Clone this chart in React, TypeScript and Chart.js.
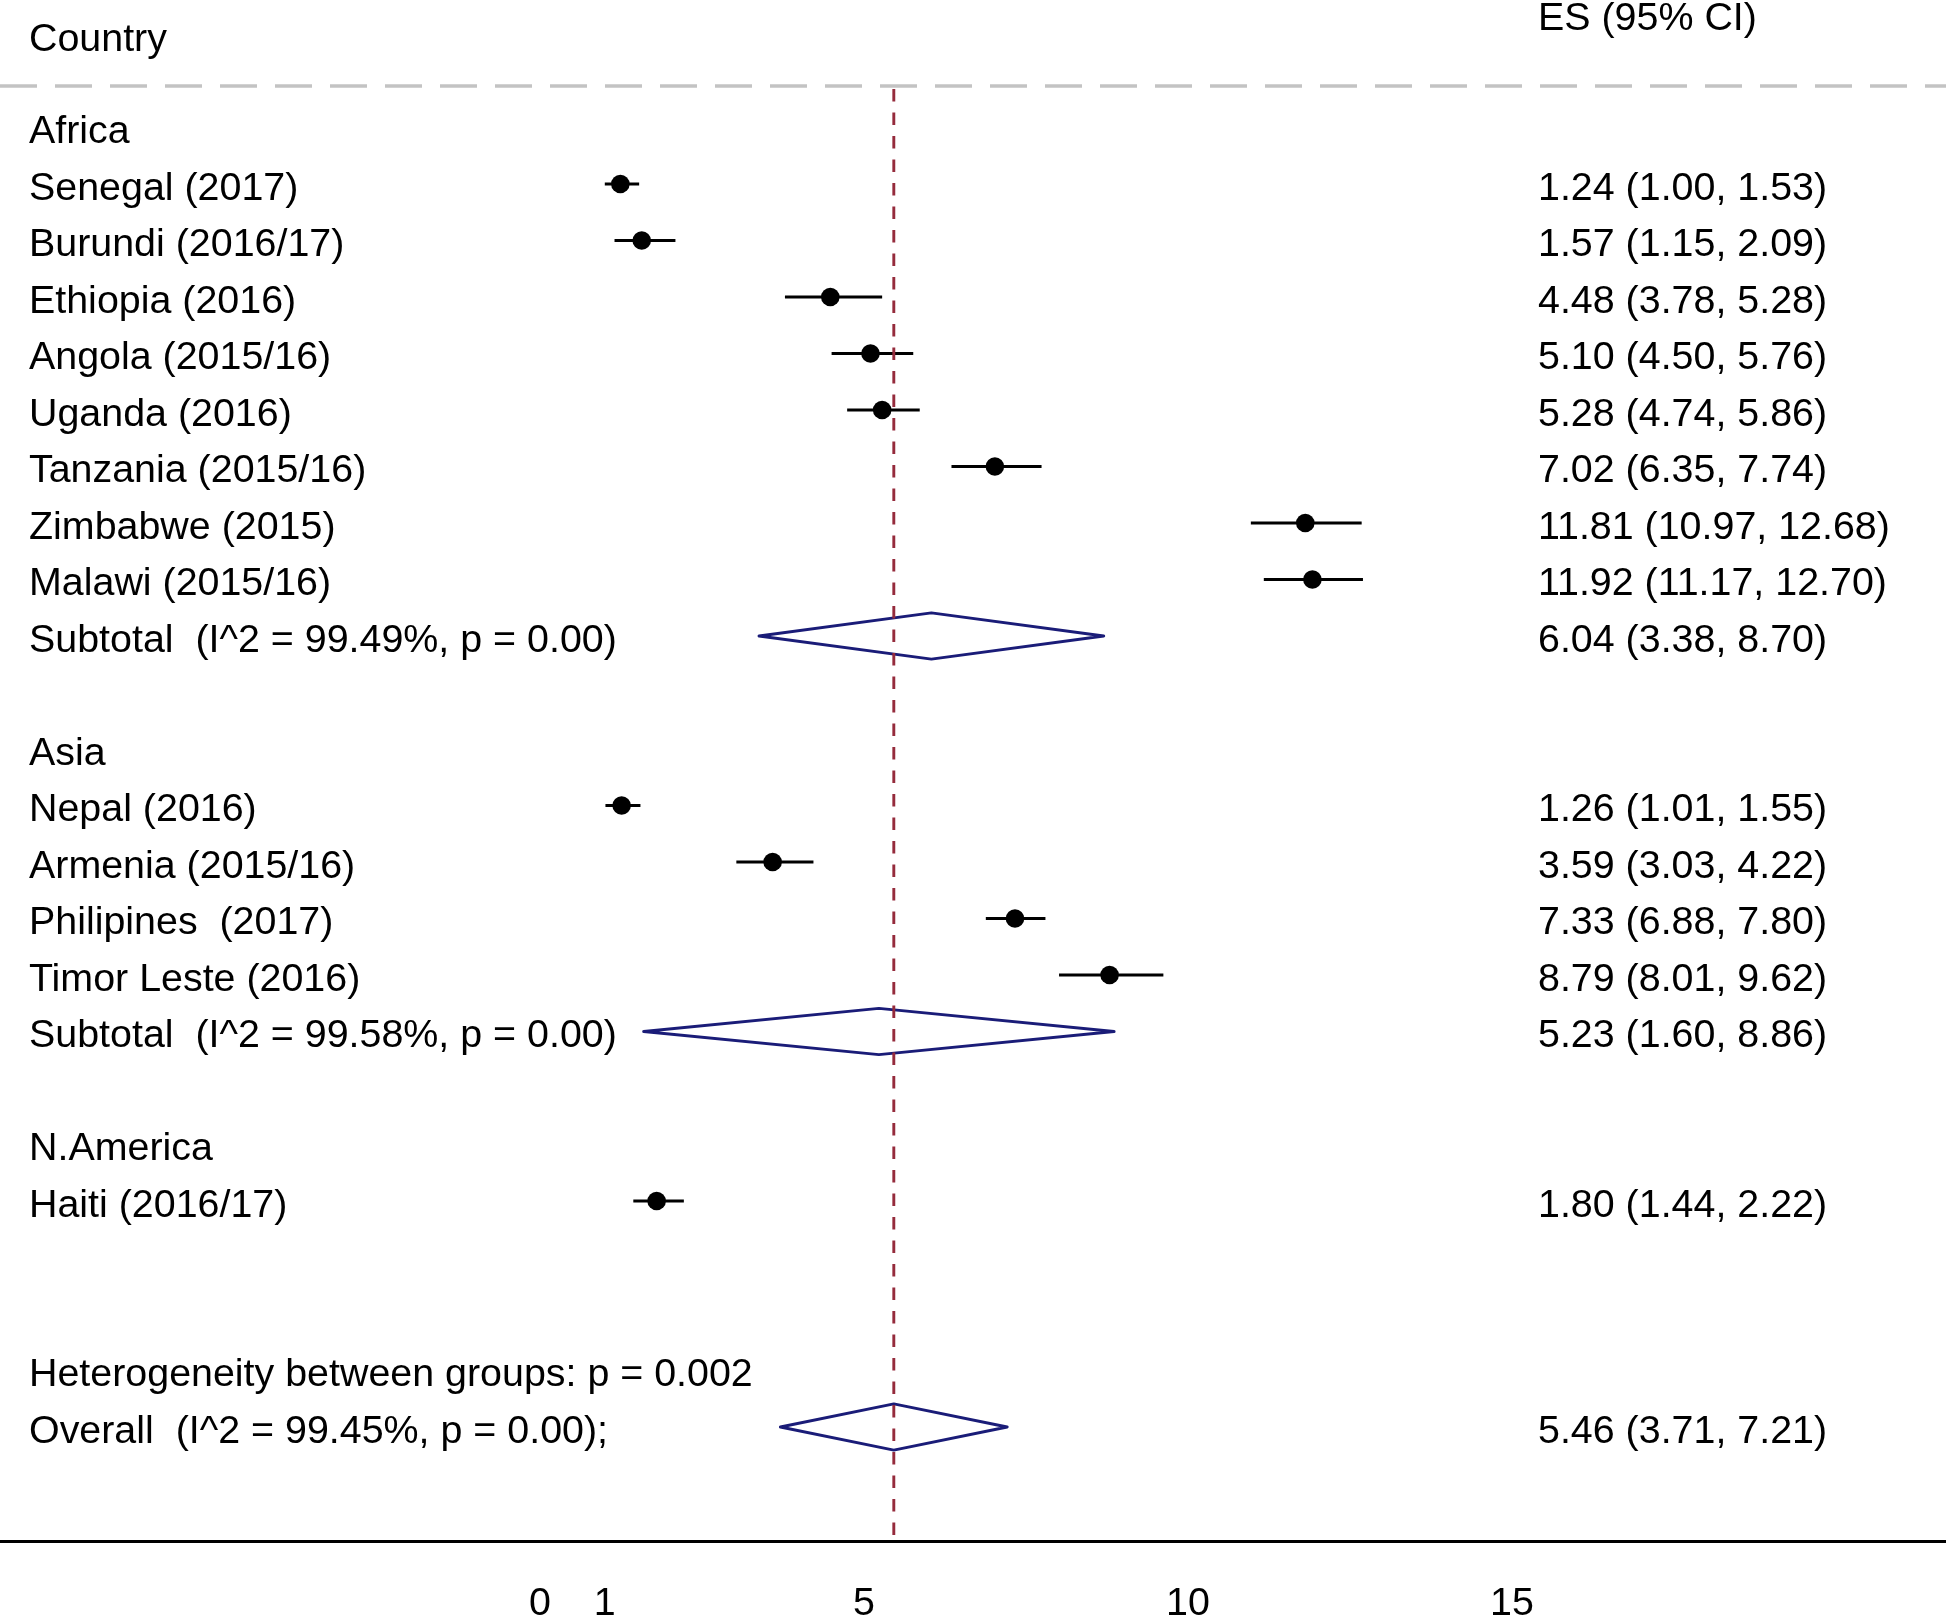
import { useEffect, useRef } from 'react';
import { Chart, registerables } from 'chart.js';

Chart.register(...registerables);

// ---------------- data ----------------
const groupNames = ['Africa', 'Asia', 'N.America'];
const studyNames = [
  'Senegal (2017)',
  'Burundi (2016/17)',
  'Ethiopia (2016)',
  'Angola (2015/16)',
  'Uganda (2016)',
  'Tanzania (2015/16)',
  'Zimbabwe (2015)',
  'Malawi (2015/16)',
  'Nepal (2016)',
  'Armenia (2015/16)',
  'Philipines  (2017)',
  'Timor Leste (2016)',
  'Haiti (2016/17)',
];
const studyGroup = [0, 0, 0, 0, 0, 0, 0, 0, 1, 1, 1, 1, 2];
const studyES = [1.24, 1.57, 4.48, 5.1, 5.28, 7.02, 11.81, 11.92, 1.26, 3.59, 7.33, 8.79, 1.8];
const studyLow = [1.0, 1.15, 3.78, 4.5, 4.74, 6.35, 10.97, 11.17, 1.01, 3.03, 6.88, 8.01, 1.44];
const studyHigh = [1.53, 2.09, 5.28, 5.76, 5.86, 7.74, 12.68, 12.7, 1.55, 4.22, 7.8, 9.62, 2.22];

const subtotalLabels = ['Subtotal  (I^2 = 99.49%, p = 0.00)', 'Subtotal  (I^2 = 99.58%, p = 0.00)', ''];
const subtotalES: (number | null)[] = [6.04, 5.23, null];
const subtotalLow: (number | null)[] = [3.38, 1.6, null];
const subtotalHigh: (number | null)[] = [8.7, 8.86, null];

const heterogeneityLabel = 'Heterogeneity between groups: p = 0.002';
const overallLabel = 'Overall  (I^2 = 99.45%, p = 0.00);';
const overallES = 5.46;
const overallLow = 3.71;
const overallHigh = 7.21;

const xTickValues = [0, 1, 5, 10, 15];
const headerLeft = 'Country';
const headerRight = 'ES (95% CI)';

// ---------------- layout / style ----------------
const W = 1946;
const H = 1618;
const AXIS_Y = 1541;
const X_MIN = -540 / 64.8;
const X_MAX = (W - 540) / 64.8;
const Y_MIN = -127.5 / 56.5;
const Y_MAX = (AXIS_Y - 127.5) / 56.5;
const DIAMOND_HALF = 0.41;
const FONT = '"Liberation Sans", Arial, Helvetica, sans-serif';
const FONT_SIZE = 39.4;
const NAVY = '#1a1c78';
const MAROON = '#952b3c';
const LEFT_X = 29;
const RIGHT_X = 1538;
const TEXT_DY = 5;

type Row = { label: string; kind: string; es?: number; lo?: number; hi?: number };

function buildRows(): Row[] {
  const rows: Row[] = [];
  groupNames.forEach((g, gi) => {
    rows.push({ label: g, kind: 'group' });
    studyNames.forEach((n, i) => {
      if (studyGroup[i] === gi) {
        rows.push({ label: n, kind: 'study', es: studyES[i], lo: studyLow[i], hi: studyHigh[i] });
      }
    });
    const se = subtotalES[gi];
    if (se != null) {
      rows.push({
        label: subtotalLabels[gi],
        kind: 'subtotal',
        es: se,
        lo: subtotalLow[gi] as number,
        hi: subtotalHigh[gi] as number,
      });
    } else {
      rows.push({ label: '', kind: 'blank' });
    }
    rows.push({ label: '', kind: 'blank' });
  });
  rows.push({ label: heterogeneityLabel, kind: 'text' });
  rows.push({ label: overallLabel, kind: 'overall', es: overallES, lo: overallLow, hi: overallHigh });
  return rows;
}

export default function App() {
  const ref = useRef<HTMLCanvasElement | null>(null);

  useEffect(() => {
    const canvas = ref.current;
    if (!canvas) return;
    const rows = buildRows();

    const ciData: any[] = [];
    const pointData: any[] = [];
    const diamondData: any[] = [];
    rows.forEach((r, i) => {
      if (r.kind === 'study') {
        ciData.push({ x: r.lo, y: i }, { x: r.hi, y: i }, { x: r.hi, y: null });
        pointData.push({ x: r.es, y: i });
      } else if (r.kind === 'subtotal' || r.kind === 'overall') {
        diamondData.push(
          { x: r.lo, y: i },
          { x: r.es, y: i - DIAMOND_HALF },
          { x: r.hi, y: i },
          { x: r.es, y: i + DIAMOND_HALF },
          { x: r.lo, y: i },
          { x: r.lo, y: null }
        );
      }
    });

    const textPlugin = {
      id: 'forestText',
      beforeDatasetsDraw(chart: any) {
        const ctx = chart.ctx;
        const ys = chart.scales.y;
        ctx.save();
        // grey dashed separator under the header
        ctx.strokeStyle = '#c3c3c3';
        ctx.lineWidth = 3.5;
        ctx.setLineDash([37, 18]);
        const sy = ys.getPixelForValue(-0.735);
        ctx.beginPath();
        ctx.moveTo(0, sy);
        ctx.lineTo(W, sy);
        ctx.stroke();
        ctx.restore();
      },
      afterDraw(chart: any) {
        const ctx = chart.ctx;
        const ys = chart.scales.y;
        ctx.save();
        ctx.font = `${FONT_SIZE}px ${FONT}`;
        ctx.fillStyle = '#000';
        ctx.textBaseline = 'middle';
        ctx.textAlign = 'left';
        ctx.fillText(headerLeft, LEFT_X, ys.getPixelForValue(-1.63) + TEXT_DY);
        ctx.fillText(headerRight, RIGHT_X, ys.getPixelForValue(-2.0) + TEXT_DY);
        rows.forEach((r, i) => {
          const y = ys.getPixelForValue(i) + TEXT_DY;
          if (r.label) ctx.fillText(r.label, LEFT_X, y);
          if (r.es != null && r.lo != null && r.hi != null) {
            ctx.fillText(`${r.es.toFixed(2)} (${r.lo.toFixed(2)}, ${r.hi.toFixed(2)})`, RIGHT_X, y);
          }
        });
        ctx.restore();
      },
    };

    const chart = new Chart(canvas, {
      type: 'line',
      data: {
        datasets: [
          {
            label: 'ref',
            data: [
              { x: overallES, y: -0.68 },
              { x: overallES, y: Y_MAX },
            ],
            borderColor: MAROON,
            borderWidth: 2.9,
            borderDash: [12.5, 11],
            pointRadius: 0,
            fill: false,
          },
          {
            label: 'ci',
            data: ciData,
            borderColor: '#000',
            borderWidth: 2.9,
            pointRadius: 0,
            spanGaps: false,
            fill: false,
          },
          {
            label: 'diamond',
            data: diamondData,
            borderColor: NAVY,
            borderWidth: 2.9,
            borderJoinStyle: 'round',
            borderCapStyle: 'round',
            pointRadius: 0,
            spanGaps: false,
            fill: false,
          },
          {
            label: 'es',
            data: pointData,
            showLine: false,
            pointRadius: 9.3,
            pointHoverRadius: 9.3,
            pointBackgroundColor: '#000',
            pointBorderColor: '#000',
            pointBorderWidth: 0,
          },
        ] as any,
      },
      options: {
        animation: false,
        responsive: false,
        devicePixelRatio: 1,
        events: [],
        layout: { padding: 0, autoPadding: false },
        plugins: { legend: { display: false }, tooltip: { enabled: false }, title: { display: false } },
        scales: {
          x: {
            type: 'linear',
            position: 'bottom',
            min: X_MIN,
            max: X_MAX,
            grid: { display: false, drawTicks: false },
            border: { display: true, color: '#000', width: 3 },
            afterBuildTicks: (axis: any) => {
              axis.ticks = xTickValues.map((v) => ({ value: v }));
            },
            afterFit: (axis: any) => {
              axis.height = H - AXIS_Y;
            },
            ticks: {
              padding: 40,
              color: '#000',
              font: { family: FONT, size: FONT_SIZE },
              maxRotation: 0,
              autoSkip: false,
              callback: (v: any) => String(v),
            },
          },
          y: {
            type: 'linear',
            display: false,
            reverse: true,
            min: Y_MIN,
            max: Y_MAX,
          },
        },
      } as any,
      plugins: [textPlugin],
    });

    return () => chart.destroy();
  }, []);

  return (
    <div style={{ position: 'absolute', left: 0, top: 0, width: W, height: H, background: '#fff' }}>
      <canvas ref={ref} width={W} height={H} style={{ width: W, height: H, display: 'block' }} />
    </div>
  );
}
